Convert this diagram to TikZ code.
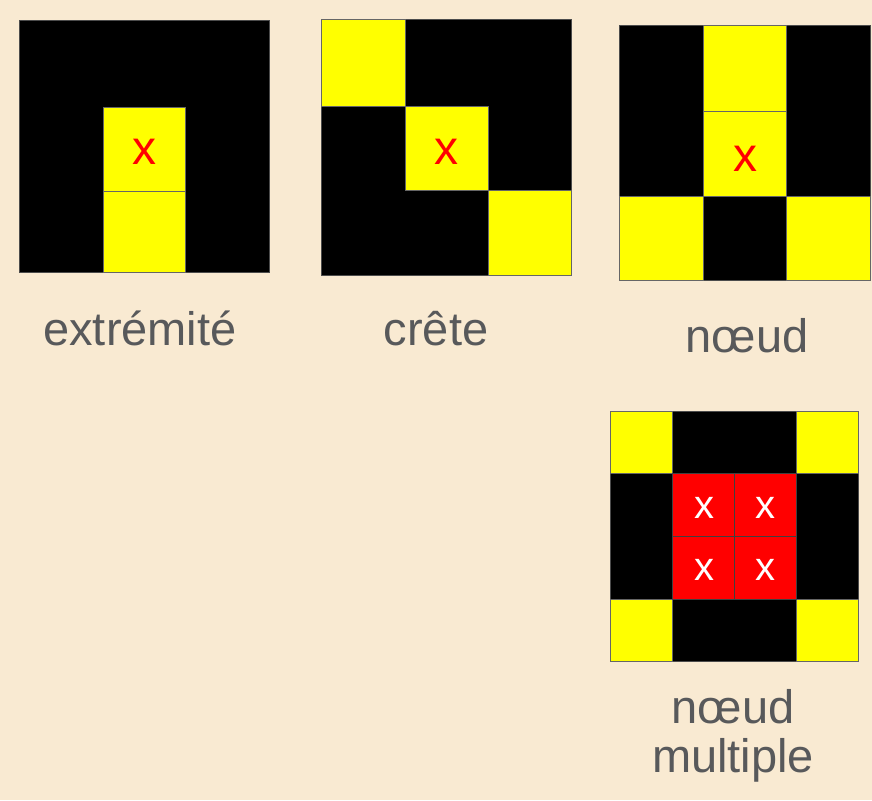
\documentclass[tikz,border=0pt]{standalone}
\usepackage{xcolor}
\usepackage{fontspec}
\setmainfont{Liberation Sans}
\usepackage{tikz}

\definecolor{paper}{RGB}{249,234,210}
\definecolor{labelgray}{RGB}{88,89,91}
\definecolor{pixyellow}{RGB}{255,255,0}
\definecolor{pixred}{RGB}{255,0,0}

\begin{document}
\begin{tikzpicture}[x=1pt,y=-1pt,
             ground/.style={fill=black,draw=black!70,line width=1pt},
             lit/.style={fill=pixyellow,draw=black!60,line width=1pt},
             hit/.style={fill=pixred,draw=black!75,line width=1pt},
             redx/.style={draw=none,inner sep=0pt,text=pixred,font=\fontsize{48}{48}\selectfont},
             whitex/.style={draw=none,inner sep=0pt,text=white,font=\fontsize{40}{40}\selectfont},
             caption/.style={draw=none,anchor=base,align=center,text=labelgray,font=\fontsize{47}{49}\selectfont}]
             \fill[paper] (0,0) rectangle (872,800);

             % extremite
             \draw[ground] (19,21) rectangle (269,272);
             \draw[lit] (103,107) rectangle (185,191);
             \draw[lit] (103,191) rectangle (185,272);
             \node[redx] (xEnd) at (144,152) {x};
             \node[caption] (capEnd) at (140,345) {extrémité};

             % crete
             \draw[ground] (321,20) rectangle (571,275);
             \draw[lit] (321,20) rectangle (405,106);
             \draw[lit] (405,106) rectangle (488,190);
             \draw[lit] (488,190) rectangle (571,275);
             \node[redx] (xRidge) at (446,152) {x};
             \node[caption] (capRidge) at (436,345) {crête};

             % noeud
             \draw[ground] (619,26) rectangle (870,280);
             \draw[lit] (703,26) rectangle (786,111);
             \draw[lit] (703,111) rectangle (786,196);
             \draw[lit] (619,196) rectangle (703,280);
             \draw[lit] (786,196) rectangle (870,280);
             \node[redx] (xNode) at (745,159) {x};
             \node[caption] (capNode) at (747,352) {nœud};

             % noeud multiple
             \draw[ground] (610,411) rectangle (858,661);
             \draw[lit] (610,411) rectangle (672,473);
             \draw[lit] (796,411) rectangle (858,473);
             \draw[lit] (610,599) rectangle (672,661);
             \draw[lit] (796,599) rectangle (858,661);
             \draw[hit] (672,473) rectangle (734,536);
             \draw[hit] (734,473) rectangle (796,536);
             \draw[hit] (672,536) rectangle (734,599);
             \draw[hit] (734,536) rectangle (796,599);
             \node[whitex] (xMultA) at (704,508) {x};
             \node[whitex] (xMultB) at (765,508) {x};
             \node[whitex] (xMultC) at (704,570) {x};
             \node[whitex] (xMultD) at (765,570) {x};
             \node[caption] (capMulti) at (733,772) {nœud\\multiple};
\end{tikzpicture}
\end{document}
